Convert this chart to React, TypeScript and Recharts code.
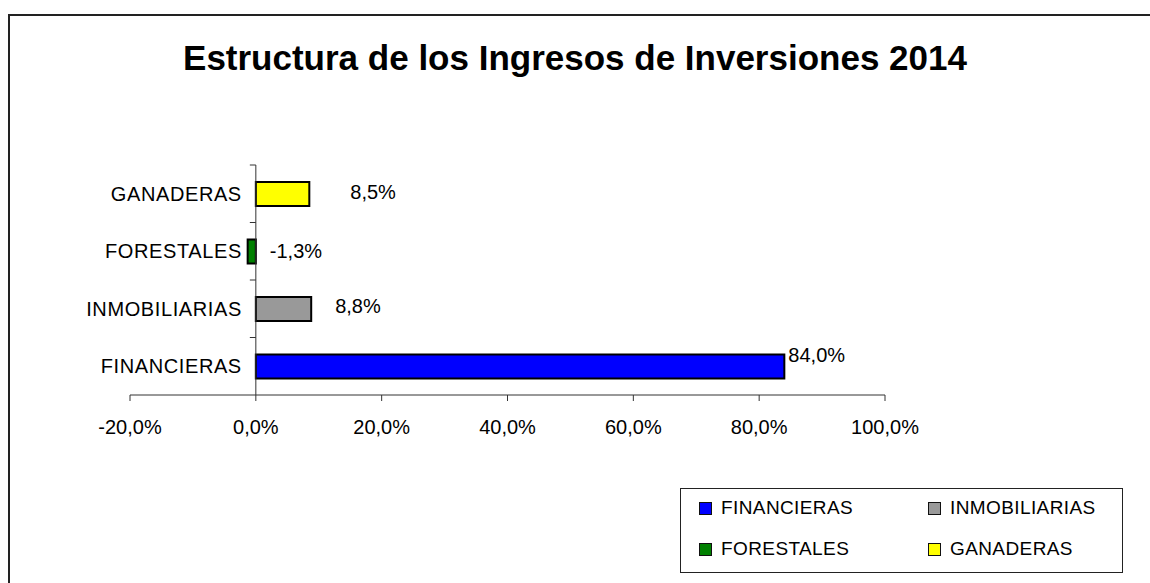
import { BarChart, Bar, XAxis, YAxis, Cell, LabelList, ReferenceLine } from 'recharts';

const categories = ['FINANCIERAS', 'INMOBILIARIAS', 'FORESTALES', 'GANADERAS'];
const values = [84.0, 8.8, -1.3, 8.5];
const barColors = ['#0000ff', '#999999', '#008000', '#ffff00'];
const xTicks = [-20, 0, 20, 40, 60, 80, 100];

const data = categories.map((name, i) => ({ name, value: values[i] }));

const FONT = '"Liberation Sans", Arial, sans-serif';
const W = 1150;
const H = 583;
const X_MIN = -20;
const X_MAX = 100;
const PLOT_LEFT = 130;
const PLOT_RIGHT = 885;
const PLOT_TOP = 165;
const PLOT_BOTTOM = 395;
const ZERO_X = PLOT_LEFT + ((0 - X_MIN) / (X_MAX - X_MIN)) * (PLOT_RIGHT - PLOT_LEFT);
const BAND = (PLOT_BOTTOM - PLOT_TOP) / categories.length;

// nudges for the value labels, the way the original sits them
const labelShift = [
  { dx: 4, dy: -12 },
  { dx: 24, dy: -3 },
  { dx: 14, dy: -1 },
  { dx: 41, dy: -2 },
];

const fmt = (v: number) => v.toFixed(1).replace('.', ',') + '%';

function CategoryTick(props: any) {
  const { y, payload } = props;
  return (
    <g>
      <line x1={ZERO_X - 6} x2={ZERO_X} y1={y - BAND / 2} y2={y - BAND / 2} stroke="#333" strokeWidth={1} />
      <text x={ZERO_X - 14} y={y} dy="0.35em" textAnchor="end" fontSize={20} letterSpacing={0.6} fill="#000" fontFamily={FONT}>
        {payload.value}
      </text>
    </g>
  );
}

function ValueLabel(props: any) {
  const { x, y, width, height, value, index } = props;
  const s = labelShift[index] || { dx: 5, dy: 0 };
  const end = Math.max(x, x + width);
  return (
    <text x={end + s.dx} y={y + height / 2 + s.dy} dy="0.35em" textAnchor="start" fontSize={20} fill="#000" fontFamily={FONT}>
      {fmt(Number(value))}
    </text>
  );
}

export default function App() {
  return (
    <div style={{ position: 'fixed', left: 0, top: 0, width: W, height: H, overflow: 'hidden', background: '#fff', fontFamily: FONT }}>
      <div style={{ position: 'absolute', left: 8, top: 14, width: 1300, height: 700, borderLeft: '2px solid #222', borderTop: '2px solid #222' }} />
      <div style={{ position: 'absolute', left: 0, top: 41, width: W, textAlign: 'center', fontSize: 35, lineHeight: '34px', fontWeight: 'bold', color: '#000' }}>
        Estructura de los Ingresos de Inversiones 2014
      </div>
      <div style={{ position: 'absolute', left: 0, top: 0 }}>
        <BarChart
          width={W}
          height={H}
          data={data}
          layout="vertical"
          margin={{ top: PLOT_TOP, right: W - PLOT_RIGHT, left: 10, bottom: H - PLOT_BOTTOM - 40 }}
        >
          <XAxis
            type="number"
            domain={[X_MIN, X_MAX]}
            ticks={xTicks}
            allowDataOverflow
            tickFormatter={fmt}
            height={40}
            axisLine={{ stroke: '#333' }}
            tickLine={{ stroke: '#333' }}
            tickSize={6}
            tickMargin={19}
            tick={{ fontSize: 20, fill: '#000', fontFamily: FONT }}
          />
          <YAxis
            type="category"
            dataKey="name"
            reversed
            width={120}
            axisLine={false}
            tickLine={false}
            tick={(p: any) => <CategoryTick {...p} />}
          />
          <Bar dataKey="value" barSize={24} stroke="#000" strokeWidth={2} isAnimationActive={false}>
            {data.map((d, i) => (
              <Cell key={d.name} fill={barColors[i]} />
            ))}
            <LabelList dataKey="value" content={(p: any) => <ValueLabel {...p} />} />
          </Bar>
          <ReferenceLine x={0} stroke="#333" strokeWidth={1} />
        </BarChart>
      </div>
      <div style={{ position: 'absolute', left: 680, top: 488, width: 443, height: 85, boxSizing: 'border-box', border: '1px solid #222', background: '#fff' }}>
        {categories.map((c, i) => {
          const col = i % 2;
          const row = Math.floor(i / 2);
          const cy = row === 0 ? 19 : 60;
          return (
            <div key={c}>
              <div style={{ position: 'absolute', left: 18 + col * 229, top: cy - 6, width: 13, height: 13, boxSizing: 'border-box', border: '1.5px solid #111', background: barColors[i] }} />
              <div style={{ position: 'absolute', left: 40 + col * 229, top: cy - 11, fontSize: 19, lineHeight: '22px', letterSpacing: 0.4, color: '#000', whiteSpace: 'nowrap' }}>
                {c}
              </div>
            </div>
          );
        })}
      </div>
    </div>
  );
}
